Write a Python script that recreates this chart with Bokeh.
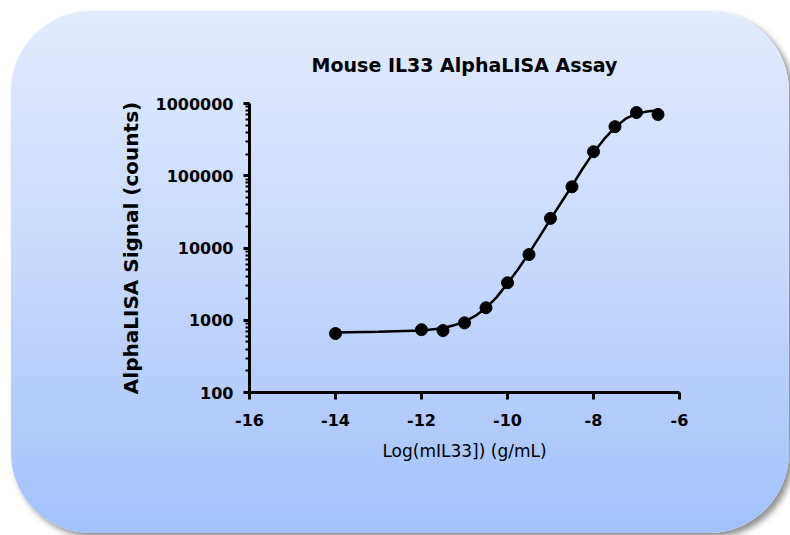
from bokeh.plotting import figure
from bokeh.models import FixedTicker
from bokeh.embed import file_html
from bokeh.resources import INLINE

# measured points: log10 of mIL33 concentration (g/mL) vs AlphaLISA signal (counts)
conc_log = [-14.0, -12.0, -11.5, -11.0, -10.5, -10.0, -9.5, -9.0, -8.5, -8.0, -7.5, -7.0, -6.5]
signal = [655, 740, 720, 920, 1490, 3300, 8100, 25700, 70300, 215000, 478000, 750000, 705000]

# fitted curve
fit_log = [-14.0, -13.0, -12.0, -11.5, -11.25, -11.0, -10.75, -10.5, -10.25, -10.0, -9.75,
           -9.5, -9.25, -9.0, -8.75, -8.5, -8.25, -8.0, -7.75, -7.5, -7.25, -7.0, -6.75, -6.5]
fit_signal = [676, 692, 724, 776, 851, 955, 1148, 1479, 2089, 3236, 5129,
              8511, 14454, 25119, 42658, 72444, 125893, 208930, 323594, 467735, 616595,
              724436, 776247, 803526]

x_ticks = [-16, -14, -12, -10, -8, -6]
x_tick_labels = ["-16", "-14", "-12", "-10", "-8", "-6"]
y_ticks = [100, 1000, 10000, 100000, 1000000]
y_tick_labels = ["100", "1000", "10000", "100000", "1000000"]
y_minor = [m * d for d in [100, 1000, 10000, 100000] for m in range(2, 10)]

FONT = "DejaVu Sans"

p = figure(width=778, height=522, x_range=(-16, -6), y_range=(100, 1000000),
           y_axis_type="log", output_backend="svg", toolbar_location=None,
           min_border_left=238, min_border_right=110, min_border_top=92, min_border_bottom=141,
           title="Mouse IL33 AlphaLISA Assay")
p.margin = (11, 0, 0, 11)
p.styles = {
    "background": "linear-gradient(to bottom, #e2ebfd 0%, #c6d8fc 50%, #a2c1fb 100%)",
    "border-radius": "80px",
    "box-shadow": "4px 4px 6px rgba(0,0,0,0.45)",
}
p.border_fill_color = None
p.background_fill_color = None
p.outline_line_color = None
p.xgrid.visible = False
p.ygrid.visible = False

p.title.align = "center"
p.title.text_font = FONT
p.title.text_font_size = "19px"
p.title.text_font_style = "bold"
p.title.text_color = "black"
p.title.standoff = 56

p.line(fit_log, fit_signal, line_color="black", line_width=2.5)
p.scatter(conc_log, signal, size=12, fill_color="black", line_color="black")

xa = p.xaxis[0]
xa.ticker = FixedTicker(ticks=x_ticks, minor_ticks=[])
xa.major_label_overrides = {t: l for t, l in zip(x_ticks, x_tick_labels)}
xa.axis_label = "Log(mIL33]) (g/mL)"
xa.axis_label_text_font = FONT
xa.axis_label_text_font_style = "normal"
xa.axis_label_text_font_size = "17px"
xa.axis_label_text_color = "black"
xa.axis_label_standoff = 12
xa.major_label_standoff = 14
xa.major_tick_out = 7
xa.major_tick_in = 0
xa.minor_tick_out = 0
xa.minor_tick_in = 0

ya = p.yaxis[0]
ya.ticker = FixedTicker(ticks=y_ticks, minor_ticks=y_minor)
ya.major_label_overrides = {t: l for t, l in zip(y_ticks, y_tick_labels)}
ya.axis_label = "AlphaLISA Signal (counts)"
ya.axis_label_text_font = FONT
ya.axis_label_text_font_style = "bold"
ya.axis_label_text_font_size = "20px"
ya.axis_label_text_color = "black"
ya.axis_label_standoff = 10
ya.major_label_standoff = 10
ya.major_tick_out = 6
ya.major_tick_in = 0
ya.minor_tick_out = 4
ya.minor_tick_in = 0
ya.minor_tick_line_width = 2
ya.minor_tick_line_color = "black"

for ax in (xa, ya):
    ax.axis_line_width = 3
    ax.axis_line_color = "black"
    ax.major_tick_line_width = 3
    ax.major_tick_line_color = "black"
    ax.major_label_text_font = FONT
    ax.major_label_text_font_style = "bold"
    ax.major_label_text_font_size = "16px"
    ax.major_label_text_color = "black"

open("out.html", "w").write(file_html(p, INLINE))
